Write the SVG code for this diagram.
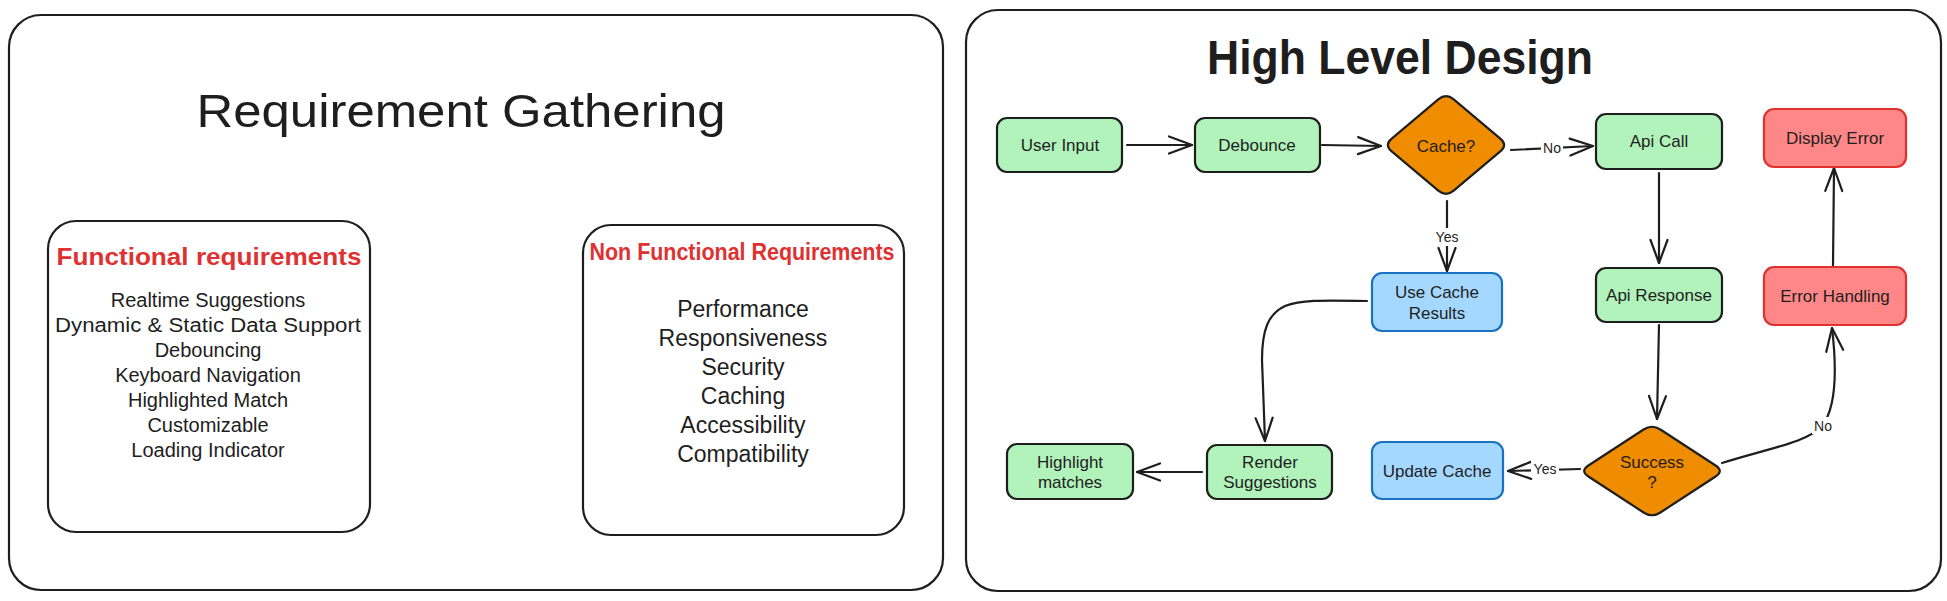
<svg xmlns="http://www.w3.org/2000/svg" width="1947" height="601" viewBox="0 0 1947 601">
<style>
.frame{fill:#ffffff;stroke:#1e1e1e;stroke-width:2.2}
.t{font-family:"Liberation Sans",Arial,sans-serif;fill:#1e1e1e;text-anchor:middle}
.h{font-family:"Liberation Sans",Arial,sans-serif;font-weight:bold;text-anchor:middle}
.red{fill:#e03131}
.item{font-size:20px}
.nitem{font-size:23px}
.lbl{font-size:17px;dominant-baseline:central}
.el{font-size:14px;dominant-baseline:central}
.green{fill:#b2f2bb;stroke:#1e1e1e;stroke-width:2.2}
.blue{fill:#a5d8ff;stroke:#1971c2;stroke-width:2.2}
.redn{fill:#ff8787;stroke:#e03131;stroke-width:2.2}
.dia{fill:#f08c00;stroke:#1e1e1e;stroke-width:2.2;stroke-linejoin:round}
.edge{fill:none;stroke:#1e1e1e;stroke-width:2.2;stroke-linecap:round;marker-end:url(#ah)}
.lblbg{fill:#ffffff}
</style>
<defs>
<marker id="ah" markerUnits="userSpaceOnUse" markerWidth="32" markerHeight="24" viewBox="-28 -12 32 24" refX="0" refY="0" orient="auto" overflow="visible">
<path d="M-23,-8.5 L0,0 L-23,8.5" fill="none" stroke="#1e1e1e" stroke-width="2.2" stroke-linecap="round" stroke-linejoin="round"/>
</marker>
</defs>
<rect width="1947" height="601" fill="#ffffff"/>

<g id="requirement-gathering">
<rect class="frame" x="9" y="15" width="934" height="575" rx="32"/>
<text class="t" x="461" y="127" font-size="46" textLength="529" lengthAdjust="spacingAndGlyphs">Requirement Gathering</text>
</g>

<g id="functional-requirements">
<rect class="frame" x="48" y="221" width="322" height="311" rx="28"/>
<text class="h red" x="209" y="265" font-size="24" textLength="305" lengthAdjust="spacingAndGlyphs">Functional requirements</text>
<text class="t item" x="208" y="307">Realtime Suggestions</text>
<text class="t item" x="208" y="332" textLength="306" lengthAdjust="spacingAndGlyphs">Dynamic &amp; Static Data Support</text>
<text class="t item" x="208" y="357">Debouncing</text>
<text class="t item" x="208" y="382">Keyboard Navigation</text>
<text class="t item" x="208" y="407">Highlighted Match</text>
<text class="t item" x="208" y="432">Customizable</text>
<text class="t item" x="208" y="457">Loading Indicator</text>
</g>

<g id="non-functional-requirements">
<rect class="frame" x="583" y="225" width="321" height="310" rx="28"/>
<text class="h red" x="742" y="260" font-size="23" textLength="305" lengthAdjust="spacingAndGlyphs">Non Functional Requirements</text>
<text class="t nitem" x="743" y="317">Performance</text>
<text class="t nitem" x="743" y="346">Responsiveness</text>
<text class="t nitem" x="743" y="375">Security</text>
<text class="t nitem" x="743" y="404">Caching</text>
<text class="t nitem" x="743" y="433">Accessibility</text>
<text class="t nitem" x="743" y="462">Compatibility</text>
</g>

<g id="high-level-design">
<rect class="frame" x="966" y="10" width="975" height="581" rx="32"/>
<text class="h" x="1400" y="74" font-size="48" fill="#1e1e1e" textLength="386" lengthAdjust="spacingAndGlyphs">High Level Design</text>
</g>

<g id="connectors">
<path class="edge" d="M1127,145 L1192,145"/>
<path class="edge" d="M1322,145 L1381,146"/>
<path class="edge" d="M1511,150 L1593,146"/>
<path class="edge" d="M1447,201 L1447,271"/>
<path class="edge" d="M1367,301 C1320,300 1300,300 1285,306 C1268,314 1262,330 1262,360 L1265,441"/>
<path class="edge" d="M1202,472 L1137,472"/>
<path class="edge" d="M1659,173 L1659,263"/>
<path class="edge" d="M1659,325 L1657,419"/>
<path class="edge" d="M1580,469 L1508,471"/>
<path class="edge" d="M1722,463 C1770,448 1808,442 1822,426 C1836,408 1837,370 1832,328"/>
<path class="edge" d="M1833,266 L1834,168"/>
<rect class="lblbg" x="1541" y="140" width="22" height="17"/>
<text class="t el" x="1552" y="148">No</text>
<rect class="lblbg" x="1434" y="228" width="26" height="18"/>
<text class="t el" x="1447" y="237">Yes</text>
<rect class="lblbg" x="1531" y="461" width="28" height="17"/>
<text class="t el" x="1545" y="469">Yes</text>
<rect class="lblbg" x="1812" y="417" width="22" height="17"/>
<text class="t el" x="1823" y="426">No</text>
</g>

<g id="user-input">
<rect class="green" x="997" y="118" width="125" height="54" rx="10"/>
<text class="t lbl" x="1060" y="145">User Input</text>
</g>
<g id="debounce">
<rect class="green" x="1195" y="118" width="125" height="54" rx="10"/>
<text class="t lbl" x="1257" y="145">Debounce</text>
</g>
<g id="cache">
<path class="dia" d="M1453.7,99.4 L1500.3,138.6 Q1508,145 1500.3,151.4 L1453.7,190.6 Q1446,197 1438.3,190.6 L1391.7,151.4 Q1384,145 1391.7,138.6 L1438.3,99.4 Q1446,93 1453.7,99.4 Z"/>
<text class="t lbl" x="1446" y="146">Cache?</text>
</g>
<g id="api-call">
<rect class="green" x="1596" y="114" width="126" height="55" rx="10"/>
<text class="t lbl" x="1659" y="141">Api Call</text>
</g>
<g id="display-error">
<rect class="redn" x="1764" y="109" width="142" height="58" rx="10"/>
<text class="t lbl" x="1835" y="138">Display Error</text>
</g>
<g id="use-cache-results">
<rect class="blue" x="1372" y="273" width="130" height="58" rx="10"/>
<text class="t lbl" x="1437" y="292">Use Cache</text>
<text class="t lbl" x="1437" y="313">Results</text>
</g>
<g id="api-response">
<rect class="green" x="1596" y="268" width="126" height="54" rx="10"/>
<text class="t lbl" x="1659" y="295">Api Response</text>
</g>
<g id="error-handling">
<rect class="redn" x="1764" y="267" width="142" height="58" rx="10"/>
<text class="t lbl" x="1835" y="296">Error Handling</text>
</g>
<g id="highlight-matches">
<rect class="green" x="1007" y="444" width="126" height="55" rx="10"/>
<text class="t lbl" x="1070" y="462">Highlight</text>
<text class="t lbl" x="1070" y="482">matches</text>
</g>
<g id="render-suggestions">
<rect class="green" x="1207" y="445" width="125" height="54" rx="10"/>
<text class="t lbl" x="1270" y="462">Render</text>
<text class="t lbl" x="1270" y="482">Suggestions</text>
</g>
<g id="update-cache">
<rect class="blue" x="1372" y="442" width="131" height="57" rx="10"/>
<text class="t lbl" x="1437" y="471">Update Cache</text>
</g>
<g id="success">
<path class="dia" d="M1660.4,429.5 L1715.6,465.5 Q1724,471 1715.6,476.5 L1660.4,512.5 Q1652,518 1643.6,512.5 L1588.4,476.5 Q1580,471 1588.4,465.5 L1643.6,429.5 Q1652,424 1660.4,429.5 Z"/>
<text class="t lbl" x="1652" y="462">Success</text>
<text class="t lbl" x="1652" y="482">?</text>
</g>
</svg>
